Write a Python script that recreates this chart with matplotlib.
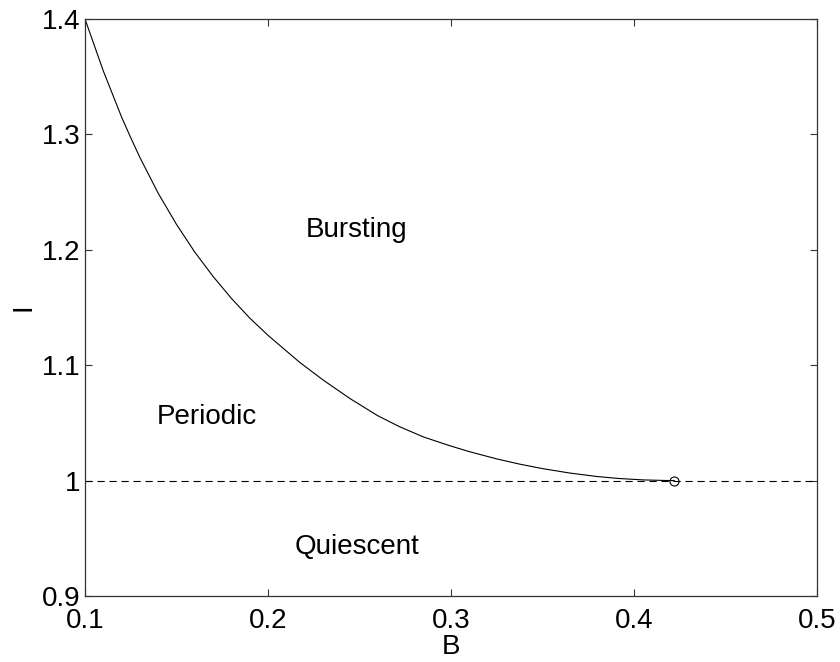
import matplotlib
matplotlib.use("Agg")
import matplotlib.pyplot as plt

plt.rcParams['font.family'] = ['Liberation Sans', 'DejaVu Sans']

# Boundary curve between periodic and bursting regimes
B_curve = [0.100, 0.110, 0.120, 0.1246, 0.130, 0.140, 0.150, 0.160, 0.170, 0.180,
           0.190, 0.200, 0.2173, 0.230, 0.2446, 0.260, 0.2719, 0.285, 0.2992,
           0.310, 0.325, 0.3374, 0.350, 0.3647, 0.380, 0.392, 0.405, 0.4174, 0.422]
I_curve = [1.400, 1.355, 1.315, 1.2985, 1.280, 1.249, 1.222, 1.198, 1.1769, 1.1579,
           1.1409, 1.1259, 1.1025, 1.0873, 1.0713, 1.0562, 1.0467, 1.0378, 1.0303,
           1.0251, 1.0188, 1.0143, 1.0104, 1.0066, 1.0035, 1.0018, 1.0006, 1.0001, 1.000]

# Threshold line and end point
I_threshold = 1.0
B_end = 0.422

region_labels = ["Bursting", "Periodic", "Quiescent"]
region_B = [0.2484, 0.1668, 0.2484]
region_I = [1.2113, 1.049, 0.9364]

x_ticks = [0.1, 0.2, 0.3, 0.4, 0.5]
y_ticks = [0.9, 1.0, 1.1, 1.2, 1.3, 1.4]
y_tick_labels = ["0.9", "1", "1.1", "1.2", "1.3", "1.4"]

fig = plt.figure(figsize=(8.4, 6.62), dpi=100)
ax = fig.add_axes([85/840, 1-596/662, (817-85)/840, (596-19)/662])

ax.plot(B_curve, I_curve, color='black', lw=0.8)
ax.plot([0.1, 0.5], [I_threshold, I_threshold], color='black', lw=0.8,
        dashes=(6.5, 4.3))
ax.plot([B_end], [I_threshold], marker='o', ms=6.5, mfc='none', mec='black',
        mew=0.8, ls='none')

for lab, bx, iy in zip(region_labels, region_B, region_I):
    ax.text(bx, iy, lab, ha='center', va='baseline', fontsize=20)

ax.set_xlim(0.1, 0.5)
ax.set_ylim(0.9, 1.4)
ax.set_xticks(x_ticks)
ax.set_xticklabels([f"{v:g}" for v in x_ticks])
ax.set_yticks(y_ticks)
ax.set_yticklabels(y_tick_labels)
ax.tick_params(direction='in', length=5, width=0.8, top=True, right=True,
               labelsize=20, color='#333333')
ax.tick_params(axis='x', pad=9)
ax.tick_params(axis='y', pad=3)
for s in ax.spines.values():
    s.set_linewidth(0.9)
    s.set_color('#333333')

ax.set_xlabel("B", fontsize=20, labelpad=0)
ax.set_ylabel("I", fontsize=20, labelpad=4)

fig.savefig("out.png", dpi=100)
